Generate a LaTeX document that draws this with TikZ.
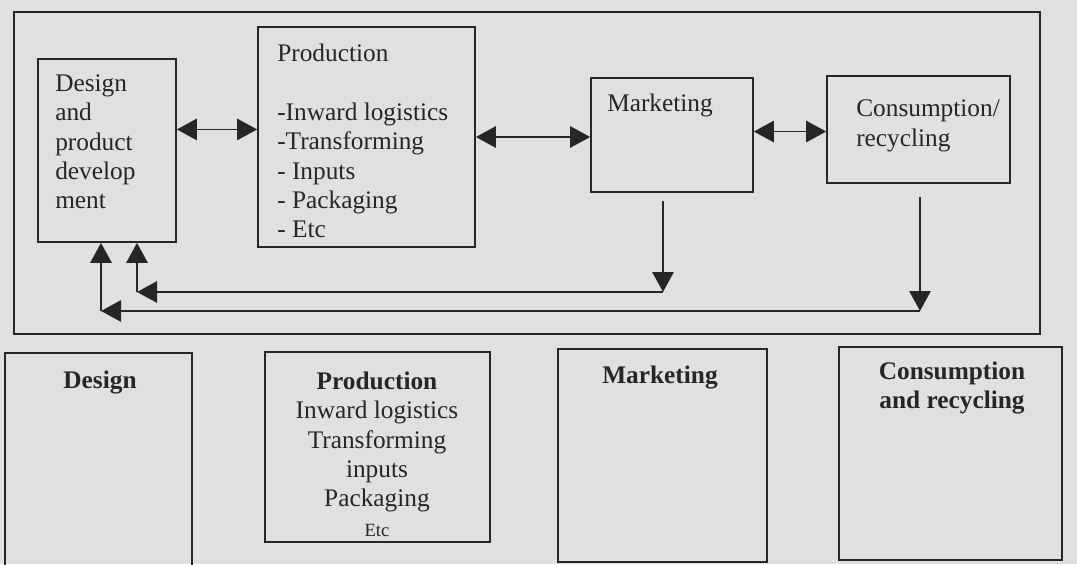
\documentclass[tikz,border=0pt]{standalone}
\usepackage{fontspec}
\setmainfont{Liberation Serif}
\usetikzlibrary{arrows.meta,fit,calc}

\definecolor{ink}{RGB}{38,38,38}
\definecolor{paper}{RGB}{224,224,222}

\begin{document}
\begin{tikzpicture}[x=0.75pt,y=0.75pt,yscale=-1,xscale=1,
  box/.style={draw=ink, line width=1.3pt, inner sep=0pt},
  lbl/.style={inner sep=0.75pt, text=ink, font=\fontsize{19}{22}\selectfont},
  blbl/.style={lbl, font=\fontsize{19}{22}\selectfont\bfseries},
  onearrow/.style={draw=ink, line width=1.3pt, -{Triangle[length=15pt,width=16pt]}},
  twoarrow/.style={draw=ink, line width=1.3pt, {Triangle[length=15pt,width=16pt]}-{Triangle[length=15pt,width=16pt]}}]
\useasboundingbox (0,0) rectangle (1077,564);
\fill[paper] (0,0) rectangle (1077,564);

%Shape: Rectangle [outer frame]
\node[box, fit={(14,12) (1040,334)}] (frame) {};

%Shape: Rectangle [upper row]
\node[box, fit={(38,59) (176,242)}] (des) {};
\node[box, fit={(258,27) (475,247)}] (prod) {};
\node[box, fit={(591,78) (753,192)}] (mkt) {};
\node[box, fit={(827,76) (1010,183)}] (con) {};

%Text Node
\node[lbl, anchor=west, align=left] (des_txt) at (54,142) {Design\\and\\product\\develop\\ment};
%Text Node
\node[lbl, anchor=west, align=left] (prod_txt) at (276,141) {Production\\[22pt]-Inward logistics\\-Transforming\\- Inputs\\- Packaging\\- Etc};
%Text Node
\node[lbl, anchor=west] (mkt_txt) at (606,105) {Marketing};
%Text Node
\node[lbl, anchor=west, align=left] (con_txt) at (855,126) {Consumption/\\recycling};

%Straight Lines [links between stages]
\coordinate (dp) at ($(des.north east)!0.386!(des.south east)$);
\coordinate (mc) at ($(mkt.north east)!0.47!(mkt.south east)$);
\draw[twoarrow] (dp) -- (dp -| prod.west);
\draw[twoarrow] (prod.east) -- (prod.east -| mkt.west);
\draw[twoarrow] (mc) -- (mc -| con.west);

%Straight Lines [feedback to design]
\coordinate (mkt_turn) at (663,292);
\coordinate (des_turn) at (137,292);
\coordinate (con_turn) at (920,311);
\coordinate (des_turn2) at (101,311);
\draw[onearrow, shorten <=6pt] (mkt_turn |- mkt.south) -- (mkt_turn);
\draw[onearrow] (mkt_turn) -- (des_turn);
\draw[onearrow] (des_turn) -- (des_turn |- des.south);
\draw[onearrow, shorten <=10pt] (con_turn |- con.south) -- (con_turn);
\draw[onearrow] (con_turn) -- (des_turn2);
\draw[onearrow] (des_turn2) -- (des_turn2 |- des.south);

%Shape: Rectangle [lower row]
\node[box, fit={(5,353) (192,590)}] (des_low) {};
\node[box, fit={(265,352) (490,542)}] (prod_low) {};
\node[box, fit={(558,349) (767,562)}] (mkt_low) {};
\node[box, fit={(839,347) (1062,560)}] (con_low) {};

%Text Node
\node[blbl] (des_low_txt) at (100,383) {Design};
%Text Node
\node[lbl, align=center] (prod_low_txt) at (377,454) {\textbf{Production}\\Inward logistics\\Transforming\\inputs\\Packaging\\{\fontsize{14}{16}\selectfont Etc}};
%Text Node
\node[blbl] (mkt_low_txt) at (660,378) {Marketing};
%Text Node
\node[blbl, align=center] (con_low_txt) at (952,388) {Consumption\\and recycling};

\end{tikzpicture}
\end{document}
